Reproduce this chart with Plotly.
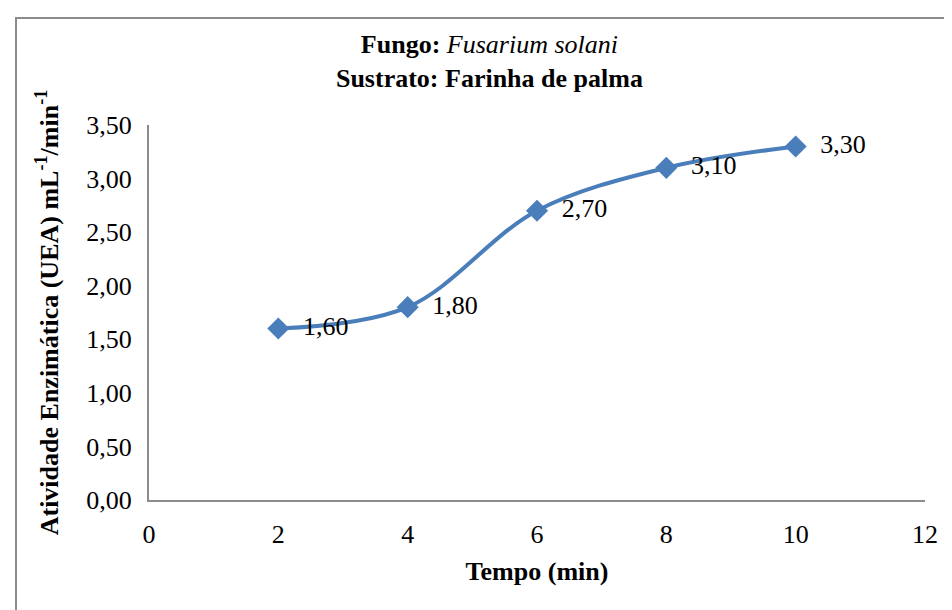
import plotly.graph_objects as go

tempo = [2, 4, 6, 8, 10]
atividade = [1.60, 1.80, 2.70, 3.10, 3.30]
rotulos = ["1,60", "1,80", "2,70", "3,10", "3,30"]

FONT = "'Liberation Serif', 'Times New Roman', Tinos, 'DejaVu Serif', serif"
FS = 26

fig = go.Figure()
fig.add_trace(go.Scatter(
    x=tempo, y=atividade, mode="lines+markers+text",
    line=dict(color="#4A7EBB", width=4, shape="spline", smoothing=1),
    marker=dict(symbol="diamond", size=17, color="#4A7EBB"),
    text=rotulos, texttemplate="\u00a0\u00a0%{text}", textposition="middle right",
    textfont=dict(family=FONT, size=FS, color="black"),
    cliponaxis=False, showlegend=False,
))

fig.update_layout(
    width=944, height=602,
    paper_bgcolor="white", plot_bgcolor="white",
    margin=dict(l=141, r=27, t=117, b=110),
    separators=", ",
    font=dict(family=FONT, size=FS, color="black"),
    title=dict(
        text="<b>Fungo:</b> <i>Fusarium solani</i><br><b>Sustrato: Farinha de palma</b>",
        x=0.51, xanchor="center", y=0.925, yanchor="middle",
        font=dict(family=FONT, size=FS, color="black"),
    ),
    xaxis=dict(
        range=[0, 12], dtick=2, tick0=0, showgrid=False, zeroline=False,
        showline=True, linecolor="#8c8c8c", linewidth=2,
        ticks="outside", ticklen=10, tickcolor="rgba(0,0,0,0)",
        tickfont=dict(family=FONT, size=FS),
        title=dict(text="<b>Tempo (min)</b>", font=dict(family=FONT, size=FS), standoff=14),
    ),
    yaxis=dict(
        range=[0, 3.5], dtick=0.5, tick0=0, tickformat=".2f",
        showgrid=False, zeroline=False,
        showline=True, linecolor="#8c8c8c", linewidth=2,
        ticks="outside", ticklen=10, tickcolor="rgba(0,0,0,0)",
        tickfont=dict(family=FONT, size=FS),
        title=dict(text="<b>Atividade Enzimática (UEA) mL<sup>-1</sup>/min<sup>-1</sup></b>",
                   font=dict(family=FONT, size=FS), standoff=20),
    ),
    shapes=[dict(
        type="rect", xref="paper", yref="paper",
        x0=(8 - 149) / 776 + 8 / 776, x1=1.2, y0=-0.6, y1=1 + (125 - 10) / 375 - 8 / 375,
        line=dict(color="#8c8c8c", width=2), fillcolor="rgba(0,0,0,0)", layer="below",
    )],
)

fig.write_html("out.html")
